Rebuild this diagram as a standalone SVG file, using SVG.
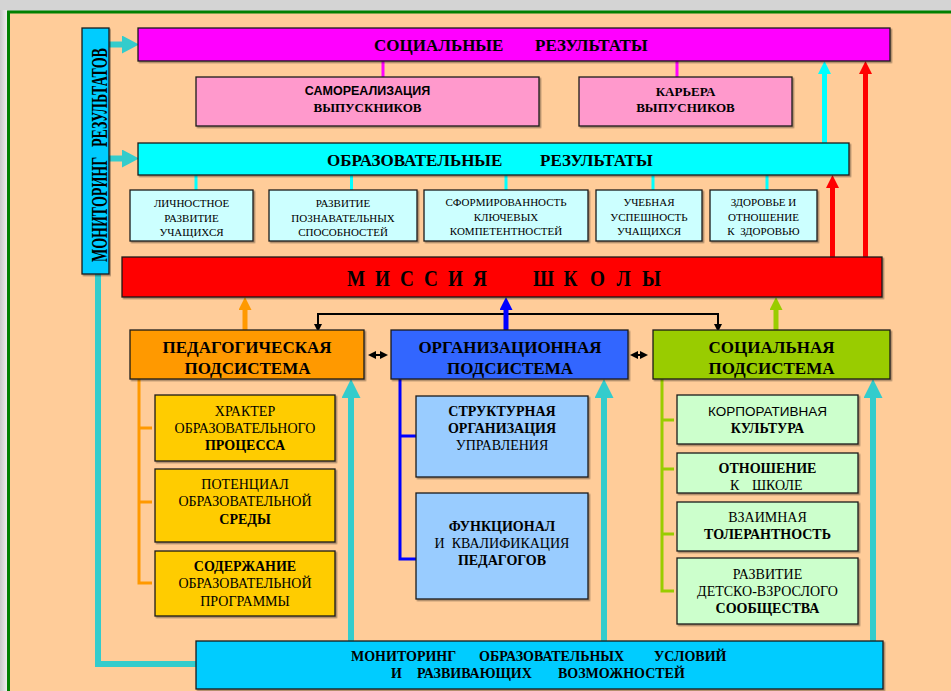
<svg xmlns="http://www.w3.org/2000/svg" width="951" height="691" viewBox="0 0 951 691" font-family="Liberation Serif, DejaVu Serif, serif">
<style>
.b{font-weight:bold}
.bx{stroke:#1a1a1a;stroke-width:1.3;filter:url(#sh)}
.c{fill:none;stroke-linecap:butt}
</style>
<defs>
<filter id="sh" x="-5%" y="-10%" width="110%" height="130%">
<feDropShadow dx="1.5" dy="1.5" stdDeviation="0.5" flood-color="#000" flood-opacity="0.35"/>
</filter>
<linearGradient id="lg" x1="0" x2="1" y1="0" y2="0">
<stop offset="0" stop-color="#c9c9c9"/><stop offset="1" stop-color="#f2f2f2"/>
</linearGradient>
<marker id="hTeal" markerUnits="userSpaceOnUse" markerWidth="19" markerHeight="19" refX="1" refY="9.5" orient="auto"><path d="M0,0 L19,9.5 L0,19 z" fill="#33CCCC"/></marker>
<marker id="hSide" markerUnits="userSpaceOnUse" markerWidth="17" markerHeight="18" refX="1" refY="9" orient="auto"><path d="M0,0 L17,9 L0,18 z" fill="#33CCCC"/></marker>
<marker id="hCyan" markerUnits="userSpaceOnUse" markerWidth="13" markerHeight="13" refX="1" refY="6.5" orient="auto"><path d="M0,0 L13,6.5 L0,13 z" fill="#00FFFF"/></marker>
<marker id="hRed" markerUnits="userSpaceOnUse" markerWidth="13" markerHeight="13" refX="1" refY="6.5" orient="auto"><path d="M0,0 L13,6.5 L0,13 z" fill="#FF0000"/></marker>
<marker id="hOrange" markerUnits="userSpaceOnUse" markerWidth="13" markerHeight="13" refX="1" refY="6.5" orient="auto"><path d="M0,0 L13,6.5 L0,13 z" fill="#FF9900"/></marker>
<marker id="hBlue" markerUnits="userSpaceOnUse" markerWidth="13" markerHeight="13" refX="1" refY="6.5" orient="auto"><path d="M0,0 L13,6.5 L0,13 z" fill="#0000FF"/></marker>
<marker id="hGreen" markerUnits="userSpaceOnUse" markerWidth="13" markerHeight="13" refX="1" refY="6.5" orient="auto"><path d="M0,0 L13,6.5 L0,13 z" fill="#99CC00"/></marker>
<marker id="hBlack" markerUnits="userSpaceOnUse" markerWidth="8" markerHeight="8" refX="1" refY="4" orient="auto-start-reverse"><path d="M0,0 L8,4 L0,8 z" fill="#000"/></marker>
</defs>

<rect x="0" y="0" width="951" height="691" fill="#d4d4d4"/>
<rect x="0" y="10" width="8" height="681" fill="url(#lg)"/>
<rect x="8.5" y="12" width="1000" height="1000" fill="#FFCC99" stroke="#008000" stroke-width="3"/>

<g id="connectors">
<path class="c" d="M383,61 V77 M677,61 V77" stroke="#FF00FF" stroke-width="3"/>
<path class="c" d="M196,175 V190 M351.5,175 V190 M506,175 V190 M653,175 V190 M767,175 V190" stroke="#00FFFF" stroke-width="3"/>
<path class="c" d="M824.5,143 V73" stroke="#00FFFF" stroke-width="5" marker-end="url(#hCyan)"/>
<path class="c" d="M832.5,257 V187" stroke="#FF0000" stroke-width="5" marker-end="url(#hRed)"/>
<path class="c" d="M865.5,257 V73" stroke="#FF0000" stroke-width="5" marker-end="url(#hRed)"/>
<path class="c" d="M109,44.5 H123" stroke="#33CCCC" stroke-width="6" marker-end="url(#hSide)"/>
<path class="c" d="M109,158.5 H123" stroke="#33CCCC" stroke-width="6" marker-end="url(#hSide)"/>
<path class="c" d="M318,314 H718" stroke="#000" stroke-width="2"/>
<path class="c" d="M318,313 V325" stroke="#000" stroke-width="2" marker-end="url(#hBlack)"/>
<path class="c" d="M718,313 V325" stroke="#000" stroke-width="2" marker-end="url(#hBlack)"/>
<path class="c" d="M188,349 V357" stroke="#000" stroke-width="1.5" marker-end="url(#hBlack)"/>
<path class="c" d="M245,330 V309" stroke="#FF9900" stroke-width="5" marker-end="url(#hOrange)"/>
<path class="c" d="M506,330 V309" stroke="#0000FF" stroke-width="5" marker-end="url(#hBlue)"/>
<path class="c" d="M776,330 V309" stroke="#99CC00" stroke-width="5" marker-end="url(#hGreen)"/>
<path class="c" d="M375,355 H381" stroke="#000" stroke-width="2" marker-start="url(#hBlack)" marker-end="url(#hBlack)"/>
<path class="c" d="M637,355 H641" stroke="#000" stroke-width="2" marker-start="url(#hBlack)" marker-end="url(#hBlack)"/>
<path class="c" d="M139,379 V583 H152 M139,428 H152 M139,502 H152" stroke="#FF9900" stroke-width="3"/>
<path class="c" d="M400,379 V559 H416 M400,436 H416" stroke="#0000FF" stroke-width="3"/>
<path class="c" d="M662,379 V591 H674 M662,420 H674 M662,469 H674 M662,534 H674" stroke="#99CC00" stroke-width="3"/>
<path class="c" d="M98,274 V664 H197" stroke="#33CCCC" stroke-width="6" stroke-linejoin="miter"/>
<path class="c" d="M351,646 V397" stroke="#33CCCC" stroke-width="6" marker-end="url(#hTeal)"/>
<path class="c" d="M604,646 V397" stroke="#33CCCC" stroke-width="6" marker-end="url(#hTeal)"/>
<path class="c" d="M873,646 V397" stroke="#33CCCC" stroke-width="6" marker-end="url(#hTeal)"/>
</g>

<g id="monitoring-results">
<rect class="bx" x="82" y="28" width="27" height="246" fill="#00CCFF"/>
<text class="b" font-size="14" transform="translate(107,151) rotate(-90) scale(1,1.6)"><tspan x="-111" y="0">МОНИТОРИНГ</tspan><tspan x="4" y="0">РЕЗУЛЬТАТОВ</tspan></text>
</g>

<g id="social-results">
<rect class="bx" x="138" y="28" width="752" height="33" fill="#FF00FF"/>
<text class="b" font-size="17" y="50.5"><tspan x="374">СОЦИАЛЬНЫЕ</tspan><tspan x="535">РЕЗУЛЬТАТЫ</tspan></text>
</g>

<g id="self-realization">
<rect class="bx" x="196" y="77" width="343" height="49" fill="#FF99CC"/>
<text class="b" font-family="Liberation Sans, DejaVu Sans, sans-serif" font-size="12.5" x="367.5" y="95" text-anchor="middle">САМОРЕАЛИЗАЦИЯ</text>
<text class="b" font-size="13" x="367.5" y="112" text-anchor="middle">ВЫПУСКНИКОВ</text>
</g>

<g id="career">
<rect class="bx" x="579" y="77" width="213" height="49" fill="#FF99CC"/>
<text class="b" font-size="13" x="685.5" y="96" text-anchor="middle">КАРЬЕРА</text>
<text class="b" font-size="13" x="685.5" y="112" text-anchor="middle">ВЫПУСНИКОВ</text>
</g>

<g id="edu-results">
<rect class="bx" x="138" y="143" width="711" height="32" fill="#00FFFF"/>
<text class="b" font-size="17" y="165.5"><tspan x="327">ОБРАЗОВАТЕЛЬНЫЕ</tspan><tspan x="540">РЕЗУЛЬТАТЫ</tspan></text>
</g>

<g id="personal-dev">
<rect class="bx" x="130" y="190" width="123" height="51" fill="#CCFFFF"/>
<text font-size="11" text-anchor="middle"><tspan x="191.5" y="207">ЛИЧНОСТНОЕ</tspan><tspan x="191.5" y="221.5">РАЗВИТИЕ</tspan><tspan x="191.5" y="236">УЧАЩИХСЯ</tspan></text>
</g>
<g id="cognitive-dev">
<rect class="bx" x="269" y="190" width="148" height="51" fill="#CCFFFF"/>
<text font-size="11" text-anchor="middle"><tspan x="343" y="207">РАЗВИТИЕ</tspan><tspan x="343" y="221.5">ПОЗНАВАТЕЛЬНЫХ</tspan><tspan x="343" y="236">СПОСОБНОСТЕЙ</tspan></text>
</g>
<g id="competences">
<rect class="bx" x="424" y="190" width="164" height="51" fill="#CCFFFF"/>
<text font-size="11" text-anchor="middle"><tspan x="506" y="206">СФОРМИРОВАННОСТЬ</tspan><tspan x="506" y="220.5">КЛЮЧЕВЫХ</tspan><tspan x="506" y="235">КОМПЕТЕНТНОСТЕЙ</tspan></text>
</g>
<g id="success">
<rect class="bx" x="596" y="190" width="106" height="51" fill="#CCFFFF"/>
<text font-size="11" text-anchor="middle"><tspan x="649" y="206">УЧЕБНАЯ</tspan><tspan x="649" y="220.5">УСПЕШНОСТЬ</tspan><tspan x="649" y="235">УЧАЩИХСЯ</tspan></text>
</g>
<g id="health">
<rect class="bx" x="710" y="190" width="107" height="51" fill="#CCFFFF"/>
<text font-size="11" text-anchor="middle" xml:space="preserve"><tspan x="763.5" y="206">ЗДОРОВЬЕ И</tspan><tspan x="763.5" y="220.5">ОТНОШЕНИЕ</tspan><tspan x="763.5" y="235">К  ЗДОРОВЬЮ</tspan></text>
</g>

<g id="mission">
<rect class="bx" x="122" y="257" width="760" height="40" fill="#FF0000"/>
<text class="b" font-size="24" transform="scale(0.8,1)" x="433.75 468.75 500 530 560 591.25" y="286">МИССИЯ</text>
<text class="b" font-size="24" transform="scale(0.8,1)" x="666.25 704.4 737.5 770.6 802.5" y="286">ШКОЛЫ</text>
</g>

<g id="pedagogical">
<rect class="bx" x="130" y="330" width="234" height="49" fill="#FF9900"/>
<text class="b" font-size="17" text-anchor="middle"><tspan x="247" y="353">ПЕДАГОГИЧЕСКАЯ</tspan><tspan x="247.5" y="374">ПОДСИСТЕМА</tspan></text>
</g>
<g id="organizational">
<rect class="bx" x="391" y="330" width="237" height="49" fill="#3366FF"/>
<text class="b" font-size="17" text-anchor="middle"><tspan x="510" y="353">ОРГАНИЗАЦИОННАЯ</tspan><tspan x="510" y="374">ПОДСИСТЕМА</tspan></text>
</g>
<g id="social">
<rect class="bx" x="653" y="330" width="237" height="49" fill="#99CC00"/>
<text class="b" font-size="17" text-anchor="middle"><tspan x="771.5" y="353">СОЦИАЛЬНАЯ</tspan><tspan x="771.5" y="374">ПОДСИСТЕМА</tspan></text>
</g>

<g id="process">
<rect class="bx" x="155" y="395" width="180" height="66" fill="#FFCC00"/>
<text font-size="14" text-anchor="middle"><tspan x="245" y="416">ХРАКТЕР</tspan><tspan x="245" y="433">ОБРАЗОВАТЕЛЬНОГО</tspan><tspan x="245" y="450" font-weight="bold">ПРОЦЕССА</tspan></text>
</g>
<g id="environment">
<rect class="bx" x="155" y="469" width="180" height="73" fill="#FFCC00"/>
<text font-size="14" text-anchor="middle"><tspan x="245" y="489">ПОТЕНЦИАЛ</tspan><tspan x="245" y="506">ОБРАЗОВАТЕЛЬНОЙ</tspan><tspan x="245" y="524" font-weight="bold">СРЕДЫ</tspan></text>
</g>
<g id="program">
<rect class="bx" x="155" y="551" width="180" height="65" fill="#FFCC00"/>
<text font-size="14" text-anchor="middle"><tspan x="245" y="571" font-weight="bold">СОДЕРЖАНИЕ</tspan><tspan x="245" y="588">ОБРАЗОВАТЕЛЬНОЙ</tspan><tspan x="245" y="606">ПРОГРАММЫ</tspan></text>
</g>

<g id="structure">
<rect class="bx" x="416" y="396" width="172" height="81" fill="#99CCFF"/>
<text font-size="14" text-anchor="middle"><tspan x="502" y="416" font-weight="bold">СТРУКТУРНАЯ</tspan><tspan x="502" y="433" font-weight="bold">ОРГАНИЗАЦИЯ</tspan><tspan x="502" y="450">УПРАВЛЕНИЯ</tspan></text>
</g>
<g id="functional">
<rect class="bx" x="416" y="493" width="172" height="106" fill="#99CCFF"/>
<text font-size="14" text-anchor="middle" xml:space="preserve"><tspan x="502" y="531" font-weight="bold">ФУНКЦИОНАЛ</tspan><tspan x="502" y="548">И  КВАЛИФИКАЦИЯ</tspan><tspan x="502" y="565" font-weight="bold">ПЕДАГОГОВ</tspan></text>
</g>

<g id="culture">
<rect class="bx" x="677" y="395" width="181" height="49" fill="#CCFFCC"/>
<text font-family="Liberation Sans, DejaVu Sans, sans-serif" font-size="13.5" x="767.5" y="416" text-anchor="middle">КОРПОРАТИВНАЯ</text>
<text class="b" font-size="14" x="767.5" y="433" text-anchor="middle">КУЛЬТУРА</text>
</g>
<g id="attitude">
<rect class="bx" x="677" y="453" width="181" height="40" fill="#CCFFCC"/>
<text class="b" font-size="14" x="767.5" y="473" text-anchor="middle">ОТНОШЕНИЕ</text>
<text font-size="14" y="490"><tspan x="730">К</tspan><tspan x="752">ШКОЛЕ</tspan></text>
</g>
<g id="tolerance">
<rect class="bx" x="677" y="502" width="181" height="49" fill="#CCFFCC"/>
<text font-size="14" x="767.5" y="522" text-anchor="middle">ВЗАИМНАЯ</text>
<text class="b" font-size="14" x="767.5" y="539" text-anchor="middle">ТОЛЕРАНТНОСТЬ</text>
</g>
<g id="community">
<rect class="bx" x="677" y="558" width="181" height="66" fill="#CCFFCC"/>
<text font-size="14" text-anchor="middle"><tspan x="767.5" y="579">РАЗВИТИЕ</tspan><tspan x="767.5" y="596">ДЕТСКО-ВЗРОСЛОГО</tspan><tspan x="767.5" y="613" font-weight="bold">СООБЩЕСТВА</tspan></text>
</g>

<g id="monitoring-conditions">
<rect class="bx" x="196" y="641" width="687" height="48" fill="#00CCFF"/>
<text class="b" font-size="14" y="661"><tspan x="351">МОНИТОРИНГ</tspan><tspan x="479">ОБРАЗОВАТЕЛЬНЫХ</tspan><tspan x="654">УСЛОВИЙ</tspan></text>
<text class="b" font-size="14" y="678"><tspan x="391">И</tspan><tspan x="417">РАЗВИВАЮЩИХ</tspan><tspan x="558">ВОЗМОЖНОСТЕЙ</tspan></text>
</g>
</svg>
